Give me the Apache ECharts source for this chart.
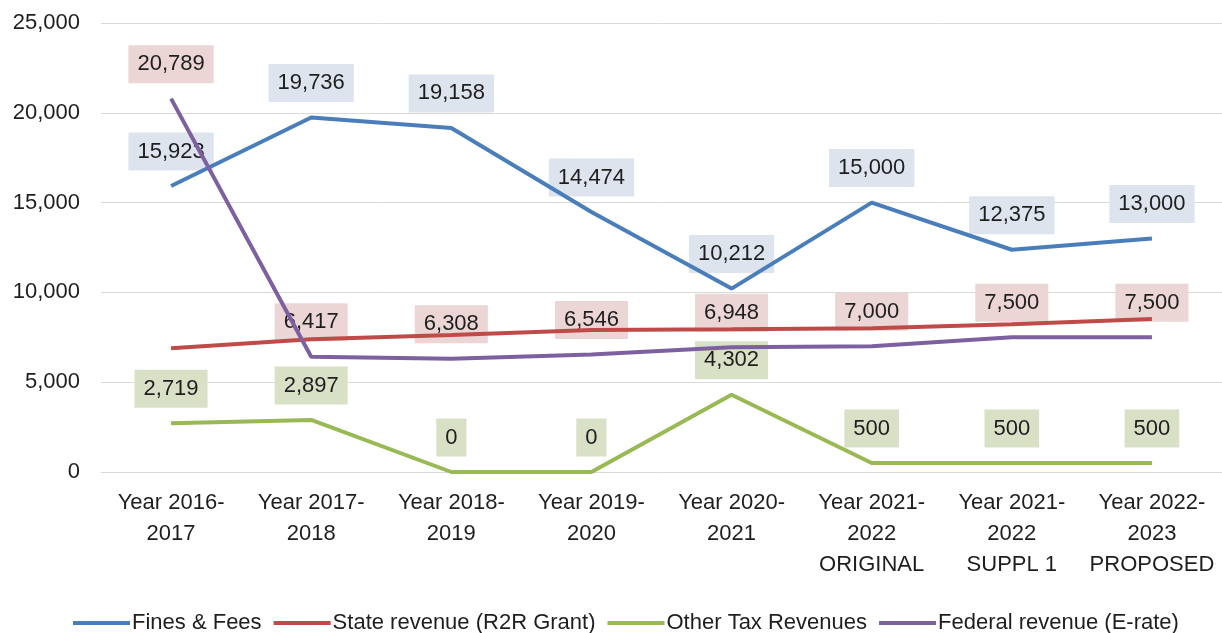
<!DOCTYPE html>
<html>
<head>
<meta charset="utf-8">
<script src="https://cdn.jsdelivr.net/npm/echarts@6/dist/echarts.min.js"></script>
<style>html,body{margin:0;padding:0;background:#fff}#c{width:1222px;height:633px}</style>
</head>
<body>
<div id="c"></div>
<script>
const categories = ['Year 2016-\n2017','Year 2017-\n2018','Year 2018-\n2019','Year 2019-\n2020','Year 2020-\n2021','Year 2021-\n2022\nORIGINAL','Year 2021-\n2022\nSUPPL 1','Year 2022-\n2023\nPROPOSED'];
const finesFees = [15923, 19736, 19158, 14474, 10212, 15000, 12375, 13000];
const stateRevenue = [6890, 7390, 7630, 7910, 7950, 8000, 8230, 8520];
const otherTax = [2719, 2897, 0, 0, 4302, 500, 500, 500];
const federal = [20789, 6417, 6308, 6546, 6948, 7000, 7500, 7500];
const yTicks = [0, 5000, 10000, 15000, 20000, 25000];

const FONT = 'Liberation Sans, Arial, sans-serif';
const fmt = v => Number(v).toLocaleString('en-US');

function lineSeries(name, data, color) {
  return {
    name: name, type: 'line', data: data, z: 5,
    symbol: 'none', smooth: false,
    lineStyle: { color: color, width: 4 },
    itemStyle: { color: color },
    emphasis: { disabled: true }, silent: true
  };
}
function labelSeries(name, data, bg) {
  return {
    name: name, type: 'line', data: data, z: 3,
    symbol: 'circle', symbolSize: 1, showSymbol: true,
    lineStyle: { width: 0, color: 'transparent' },
    itemStyle: { color: 'transparent', borderWidth: 0 },
    silent: true, emphasis: { disabled: true },
    label: {
      show: true, position: 'top', distance: 15,
      formatter: p => fmt(p.value),
      fontFamily: FONT, fontSize: 22, lineHeight: 22, color: '#1e1e1e',
      backgroundColor: bg, padding: [8, 9, 8, 9]
    }
  };
}

const chart = echarts.init(document.getElementById('c'), null, { renderer: 'canvas' });
chart.setOption({
  animation: false,
  backgroundColor: '#ffffff',
  color: ['#4a7ebb', '#be4b48', '#98b954', '#7d60a0'],
  grid: { left: 101, top: 23, width: 1131, bottom: 161, containLabel: false },
  legend: {
    data: ['Fines & Fees', 'State revenue (R2R Grant)', 'Other Tax Revenues', 'Federal revenue (E-rate)'],
    left: 68, top: 607, icon: 'rect', itemWidth: 57, itemHeight: 4, itemGap: 12,
    textStyle: { fontFamily: FONT, fontSize: 22, color: '#1e1e1e', padding: [0, 0, 0, -3] }
  },
  xAxis: {
    type: 'category', data: categories, boundaryGap: true,
    axisLine: { lineStyle: { color: '#d9d9d9', width: 1 } },
    axisTick: { show: false },
    axisLabel: { fontFamily: FONT, fontSize: 22, lineHeight: 31, color: '#1e1e1e', margin: 15, interval: 0 }
  },
  yAxis: {
    type: 'value', min: yTicks[0], max: yTicks[yTicks.length - 1], interval: 5000,
    axisLine: { show: false }, axisTick: { show: false },
    splitLine: { lineStyle: { color: '#d9d9d9', width: 1 } },
    axisLabel: { fontFamily: FONT, fontSize: 22, color: '#1e1e1e', margin: 21, formatter: v => fmt(v) }
  },
  series: [
    lineSeries('Fines & Fees', finesFees, '#4a7ebb'),
    lineSeries('State revenue (R2R Grant)', stateRevenue, '#be4b48'),
    lineSeries('Other Tax Revenues', otherTax, '#98b954'),
    lineSeries('Federal revenue (E-rate)', federal, '#7d60a0'),
    labelSeries('lbl-fines', finesFees, '#dde4ed'),
    labelSeries('lbl-other', otherTax, '#d8e1c6'),
    labelSeries('lbl-federal', federal, '#ebd6d5')
  ]
});
</script>
</body>
</html>
